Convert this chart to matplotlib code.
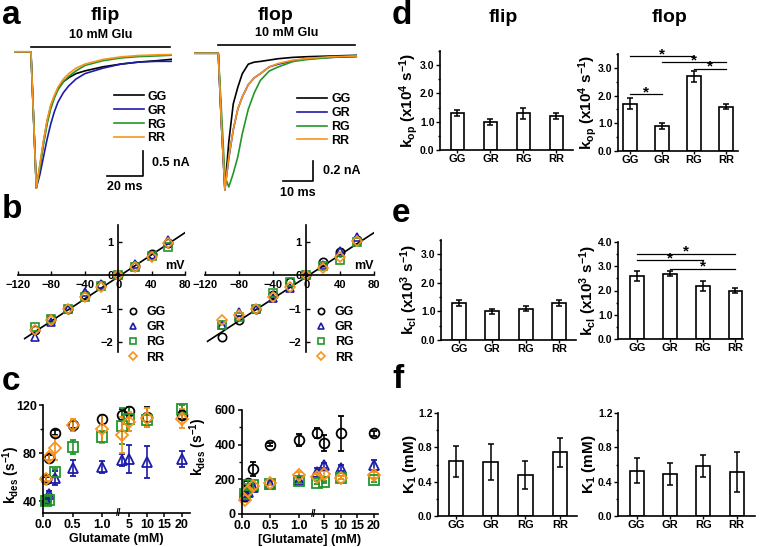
import numpy as np
import matplotlib
matplotlib.use('Agg')
import matplotlib.pyplot as plt
from matplotlib.ticker import MultipleLocator

plt.rcParams['font.family'] = 'Liberation Sans'
plt.rcParams['font.weight'] = 'bold'
plt.rcParams['axes.labelweight'] = 'bold'
plt.rcParams['mathtext.fontset'] = 'custom'
plt.rcParams['mathtext.rm'] = 'Liberation Sans:bold'
plt.rcParams['mathtext.bf'] = 'Liberation Sans:bold'
plt.rcParams['mathtext.it'] = 'Liberation Sans:bold'
plt.rcParams['mathtext.default'] = 'bf'
plt.rcParams['axes.linewidth'] = 1.2

W, H = 760, 547

variants = ['GG', 'GR', 'RG', 'RR']
colors = ['black', '#1c1ca8', '#23962a', '#f7931e']
markers = ['o', '^', 's', 'D']

# ---- a: normalised current traces (fraction of peak)
t_flip = [-9, 0, 1.5, 3, 5, 7, 9, 11, 13, 15, 18, 21, 25, 30, 40, 50, 60, 70, 78]
flip_GG = [0, 0, 0.5, 1.0, 0.84, 0.66, 0.51, 0.40, 0.33, 0.27, 0.22, 0.19, 0.16, 0.14, 0.11, 0.09, 0.075, 0.065, 0.055]
flip_GR = [0, 0, 0.5, 1.0, 0.90, 0.77, 0.64, 0.53, 0.44, 0.37, 0.30, 0.25, 0.20, 0.16, 0.12, 0.09, 0.075, 0.07, 0.07]
flip_RG = [0, 0, 0.5, 1.0, 0.85, 0.68, 0.53, 0.42, 0.34, 0.28, 0.22, 0.18, 0.14, 0.10, 0.065, 0.045, 0.035, 0.03, 0.025]
flip_RR = [0, 0, 0.5, 1.0, 0.82, 0.65, 0.50, 0.39, 0.32, 0.26, 0.20, 0.16, 0.12, 0.09, 0.056, 0.037, 0.027, 0.022, 0.02]
flip_peak = 2.7  # nA

t_flop = [-8, 0, 1, 2.2, 3.5, 5, 6.5, 8, 10, 12, 14, 17, 20, 25, 30, 38, 46]
flop_GG = [0, 0, 0.5, 1.0, 0.65, 0.37, 0.25, 0.15, 0.08, 0.065, 0.06, 0.05, 0.04, 0.03, 0.025, 0.02, 0.015]
flop_GR = [0, 0, 0.5, 1.0, 0.77, 0.56, 0.41, 0.32, 0.23, 0.18, 0.15, 0.10, 0.08, 0.055, 0.04, 0.03, 0.025]
flop_RG = [0, 0, 0.4, 0.9, 0.98, 0.88, 0.76, 0.59, 0.41, 0.29, 0.20, 0.13, 0.10, 0.06, 0.045, 0.03, 0.02]
flop_RR = [0, 0, 0.5, 1.0, 0.76, 0.56, 0.41, 0.32, 0.23, 0.18, 0.15, 0.10, 0.075, 0.05, 0.037, 0.025, 0.02]
flop_peak = 1.32  # nA

# ---- b: I-V relations (normalised current)
v_steps = [-100, -80, -60, -40, -20, 0, 20, 40, 60]
iv_flip_GG = [-1.65, -1.30, -1.00, -0.60, -0.30, 0, 0.28, 0.62, 0.95]
iv_flip_GR = [-1.85, -1.40, -1.00, -0.50, -0.28, 0, 0.33, 0.60, 1.05]
iv_flip_RG = [-1.55, -1.30, -1.00, -0.65, -0.33, 0, 0.25, 0.57, 0.83]
iv_flip_RR = [-1.65, -1.33, -1.00, -0.65, -0.35, 0, 0.25, 0.55, 0.95]
iv_flop_GG = [-1.85, -1.35, -1.00, -0.60, -0.20, 0, 0.38, 0.68, 1.05]
iv_flop_GR = [-1.50, -1.10, -1.00, -0.68, -0.38, 0, 0.30, 0.72, 1.15]
iv_flop_RG = [-1.50, -1.25, -1.00, -0.52, -0.22, 0, 0.28, 0.45, 0.98]
iv_flop_RR = [-1.35, -1.20, -1.00, -0.65, -0.35, 0, 0.20, 0.55, 1.03]
fit_slope = 0.0165
fit_icpt = -0.05

# ---- c: desensitisation rate vs glutamate
conc = [0.05, 0.1, 0.2, 0.5, 1.0, 3, 5, 10, 20]
kdes_flip_GG = [58, 76, 97, 103.5, 108, 112, 115, 110, 112]
kdes_flip_GR = [40.5, 45.5, 59, 67.5, 68, 74.5, 75, 72.5, 75]
kdes_flip_RG = [40, 41, 64, 85, 93, 102.5, 108, 107.5, 117]
kdes_flip_RR = [58.5, 77, 84, 103.5, 100, 95, 106, 109.5, 108.5]
err_flip_GG = [2, 2, 2, 3, 4, 5, 3, 8, 4]
err_flip_GR = [2, 3, 6, 7, 5, 5, 12, 13, 7]
err_flip_RG = [1, 1, 3, 6, 5, 15, 10, 5, 3]
err_flip_RR = [2, 3, 10, 5, 12, 15, 8, 8, 8]
kdes_flop_GG = [105, 178, 260, 400, 427, 469, 410, 465, 465]
kdes_flop_GR = [110, 125, 155, 175, 195, 240, 280, 265, 280]
kdes_flop_RG = [115, 165, 165, 175, 190, 180, 185, 210, 195]
kdes_flop_RR = [82, 130, 160, 180, 225, 215, 230, 210, 225]
err_flop_GG = [10, 15, 40, 10, 35, 30, 45, 100, 15]
err_flop_GR = [10, 10, 10, 8, 10, 25, 15, 15, 30]
err_flop_RG = [10, 10, 10, 8, 10, 8, 8, 10, 10]
err_flop_RR = [15, 15, 10, 10, 15, 15, 20, 10, 20]
conc_ticks = [0, 0.5, 1.0, 5, 10, 15, 20]
conc_ticklabels = ['0.0', '0.5', '1.0', '5', '10', '15', '20']

# ---- d, e, f: bar charts
kop_flip = [1.3, 1.0, 1.3, 1.2]
kop_flip_err = [0.1, 0.1, 0.2, 0.1]
kop_flop = [1.7, 0.9, 2.7, 1.6]
kop_flop_err = [0.2, 0.1, 0.2, 0.1]
kcl_flip = [1.3, 1.0, 1.1, 1.3]
kcl_flip_err = [0.1, 0.1, 0.1, 0.1]
kcl_flop = [2.6, 2.7, 2.2, 2.0]
kcl_flop_err = [0.2, 0.1, 0.2, 0.1]
k1_flip = [0.64, 0.63, 0.48, 0.74]
k1_flip_err = [0.18, 0.21, 0.16, 0.17]
k1_flop = [0.53, 0.49, 0.58, 0.51]
k1_flop_err = [0.15, 0.13, 0.13, 0.23]
sig_kop_flop = [(0, 1, 2.05), (0, 2, 3.42), (1, 3, 3.2), (2, 3, 2.97)]
sig_kcl_flop = [(0, 3, 3.52), (0, 2, 3.25), (1, 3, 2.9)]

fig = plt.figure(figsize=(W / 100, H / 100), dpi=100)


def add_ax(x0, y0, x1, y1):
    return fig.add_axes([x0 / W, 1 - y1 / H, (x1 - x0) / W, (y1 - y0) / H])


# ================= panel a
def trace_panel(rect, t, traces, peak, xlim, ylim, glu_y, glu_x, scale, leg_anchor):
    ax = add_ax(*rect)
    for tr, c, name in zip(traces, colors, variants):
        ax.plot(t, -peak * np.array(tr), color=c, lw=1.2, label=name)
    ax.set_xlim(*xlim)
    ax.set_ylim(*ylim)
    ax.axis('off')
    ax.plot([0, glu_x], [glu_y, glu_y], color='k', lw=1.2)
    ax.text(glu_x / 2, glu_y + 0.03 * (ylim[1] - ylim[0]), '10 mM Glu', ha='center', va='bottom', fontsize=9)
    sx0, sx1, sy0, sy1, xlab, ylab = scale
    ax.plot([sx0, sx1, sx1], [sy0, sy0, sy1], color='k', lw=1.2)
    ax.text(sx1 + 0.06 * (xlim[1] - xlim[0]), (sy0 + sy1) / 2, ylab, ha='left', va='center', fontsize=9)
    ax.text((sx0 + sx1) / 2, sy0 - 0.03 * (ylim[1] - ylim[0]), xlab, ha='center', va='top', fontsize=9)
    ax.legend(loc='upper left', bbox_to_anchor=leg_anchor, frameon=False, fontsize=9,
              handlelength=2.4, labelspacing=0.15, handletextpad=0.3, borderaxespad=0)
    return ax


trace_panel((14, 15, 172, 192), t_flip, [flip_GG, flip_GR, flip_RG, flip_RR], flip_peak,
            (-9.4, 78.3), (-2.78, 0.73), 0.105, 77,
            (42.2, 62.2, -2.46, -1.96, '20 ms', '0.5 nA'), (0.6, 0.6))
trace_panel((194, 15, 358, 198), t_flop, [flop_GG, flop_GR, flop_RG, flop_RR], flop_peak,
            (-8.1, 46.6), (-1.40, 0.37), 0.08, 45.6,
            (21.6, 31.6, -1.24, -1.04, '10 ms', '0.2 nA'), (0.6, 0.6))

# ================= panel b
def iv_panel(rect, ivs, v0):
    ax = add_ax(*rect)
    vline = np.array([v0, 80])
    ax.plot(vline, fit_slope * vline + fit_icpt, color='k', lw=1.2, zorder=1)
    for iv, c, m, name in zip(ivs, colors, markers, variants):
        ax.plot(v_steps, iv, ls='none', marker=m, mfc='none', mec=c, mew=1.2,
                ms=6 if m != 'D' else 5.2, label=name, clip_on=False)
    ax.set_xlim(-120, 80)
    ax.set_ylim(-2.3, 1.5)
    for s in ('top', 'right'):
        ax.spines[s].set_visible(False)
    ax.spines['left'].set_position(('data', 0))
    ax.spines['bottom'].set_position(('data', 0))
    ax.set_xticks([-120, -80, -40, 0, 40, 80])
    ax.set_yticks([-2, -1, 0, 1])
    ax.tick_params(labelsize=8, length=3, width=1, direction='in')
    ax.text(80, 0.08, 'mV', ha='right', va='bottom', fontsize=9)
    ax.legend(loc='upper left', bbox_to_anchor=(0.62, 0.4), frameon=False, fontsize=9,
              handlelength=1.0, labelspacing=0.25, handletextpad=0.6, borderaxespad=0,
              markerscale=0.75)
    return ax


iv_panel((18, 225, 185, 352), [iv_flip_GG, iv_flip_GR, iv_flip_RG, iv_flip_RR], -112)
iv_panel((205, 225, 374, 352), [iv_flop_GG, iv_flop_GR, iv_flop_RG, iv_flop_RR], -117)


# ================= panel c
def brk_fwd(x):
    x = np.asarray(x, dtype=float)
    return np.where(x <= 1.25, x, 1.25 + np.clip(x - 1.6, 0, None) * 0.059)


def brk_inv(u):
    u = np.asarray(u, dtype=float)
    return np.where(u <= 1.25, u, 1.6 + (u - 1.25) / 0.059)


def kdes_panel(rect, vals, errs, xmax, ylim, major, minor, xlabel, label_xy):
    ax = add_ax(*rect)
    ax.set_xscale('function', functions=(brk_fwd, brk_inv))
    for v, e, c, m in zip(vals, errs, colors, markers):
        ax.errorbar(conc, v, yerr=e, ls='none', marker=m, mfc='none', mec=c, mew=1.3,
                    ms=7 if m != 'D' else 6, ecolor=c, elinewidth=1.2, capsize=2, clip_on=False)
    ax.set_xlim(0, xmax)
    ax.set_ylim(*ylim)
    ax.set_xticks(conc_ticks)
    ax.set_xticklabels(conc_ticklabels)
    ax.xaxis.set_minor_locator(plt.NullLocator())
    ax.yaxis.set_major_locator(MultipleLocator(major))
    ax.yaxis.set_minor_locator(MultipleLocator(minor))
    for s in ('top', 'right'):
        ax.spines[s].set_visible(False)
    ax.tick_params(labelsize=9, length=3, width=1.1, pad=1.5)
    ax.tick_params(which='minor', length=2, width=1)
    ax.text(1.9, 0, '//', transform=ax.get_xaxis_transform(), ha='center', va='center', fontsize=7)
    ax.set_xlabel(xlabel, fontsize=9, labelpad=1)
    ax.set_ylabel('k$_{des}$ (s$^{-1}$)', fontsize=10)
    lx, ly = label_xy
    ax.yaxis.set_label_coords((lx - rect[0]) / (rect[2] - rect[0]), (rect[3] - ly) / (rect[3] - rect[1]))
    return ax


kdes_panel((43, 405, 190, 513),
           [kdes_flip_GG, kdes_flip_GR, kdes_flip_RG, kdes_flip_RR],
           [err_flip_GG, err_flip_GR, err_flip_RG, err_flip_RR],
           22.3, (30, 120), 40, 20, 'Glutamate (mM)', (22, 475))
kdes_panel((242, 410, 378, 514),
           [kdes_flop_GG, kdes_flop_GR, kdes_flop_RG, kdes_flop_RR],
           [err_flop_GG, err_flop_GR, err_flop_RG, err_flop_RR],
           21.2, (0, 600), 200, 100, '[Glutamate] (mM)', (209, 447))


# ================= panels d, e, f
def bar_panel(rect, means, errs, xlim, ylim, major, minor, ylabel, label_x, sig=None):
    ax = add_ax(*rect)
    x = np.arange(len(variants))
    ax.bar(x, means, width=0.42, color='white', edgecolor='black', linewidth=1.2)
    ax.errorbar(x, means, yerr=errs, ls='none', ecolor='black', elinewidth=1.1, capsize=2.5, capthick=1.1)
    ax.set_xlim(*xlim)
    ax.set_ylim(*ylim)
    ax.set_xticks(x)
    ax.set_xticklabels(variants)
    ax.yaxis.set_major_locator(MultipleLocator(major))
    ax.yaxis.set_minor_locator(MultipleLocator(minor))
    ax.yaxis.set_major_formatter(plt.FormatStrFormatter('%.1f'))
    for s in ('top', 'right'):
        ax.spines[s].set_visible(False)
    ax.tick_params(axis='y', labelsize=7.5, length=3, width=1, pad=1)
    ax.tick_params(axis='y', which='minor', length=1.5, width=1)
    ax.tick_params(axis='x', labelsize=8, length=2, width=1, pad=1)
    ax.set_ylabel(ylabel, fontsize=11)
    ax.yaxis.set_label_coords((label_x - rect[0]) / (rect[2] - rect[0]), 0.5)
    if sig:
        for i, j, y in sig:
            ax.plot([i, j], [y, y], color='k', lw=0.9, clip_on=False)
            ax.text((i + j) / 2, y - 0.05 * ylim[1], '*', ha='center', va='bottom', fontsize=11)
    return ax


bar_panel((440, 51, 573, 150), kop_flip, kop_flip_err, (-0.53, 3.5), (0, 3.5), 1.0, 0.5,
          'k$_{op}$ (x10$^{4}$ s$^{-1}$)', 420)
bar_panel((618, 54, 738, 151), kop_flop, kop_flop_err, (-0.375, 3.375), (0, 3.5), 1.0, 0.5,
          'k$_{op}$ (x10$^{4}$ s$^{-1}$)', 599, sig_kop_flop)
bar_panel((441, 240, 576, 340), kcl_flip, kcl_flip_err, (-0.54, 3.51), (0, 3.5), 1.0, 0.5,
          'k$_{cl}$ (x10$^{3}$ s$^{-1}$)', 420)
bar_panel((618, 242, 743, 339), kcl_flop, kcl_flop_err, (-0.58, 3.23), (0, 4.0), 1.0, 0.5,
          'k$_{cl}$ (x10$^{3}$ s$^{-1}$)', 599, sig_kcl_flop)
bar_panel((438, 413, 577, 516), k1_flip, k1_flip_err, (-0.52, 3.49), (0, 1.2), 0.4, 0.2,
          'K$_{1}$ (mM)', 419)
bar_panel((618, 413, 755, 516), k1_flop, k1_flop_err, (-0.56, 3.55), (0, 1.2), 0.4, 0.2,
          'K$_{1}$ (mM)', 598)

# titles and panel letters
for x, y, s in [(105, 15, 'flip'), (275, 15, 'flop'), (503, 17, 'flip'), (670, 17, 'flop')]:
    fig.text(x / W, 1 - y / H, s, ha='center', va='center', fontsize=14)
for x, y, s in [(2, 16, 'a'), (2, 210, 'b'), (2, 381, 'c'), (392, 16, 'd'), (392, 213, 'e'), (392, 380, 'f')]:
    fig.text(x / W, 1 - y / H, s, ha='left', va='center', fontsize=24)

fig.savefig('out.png', dpi=100)
